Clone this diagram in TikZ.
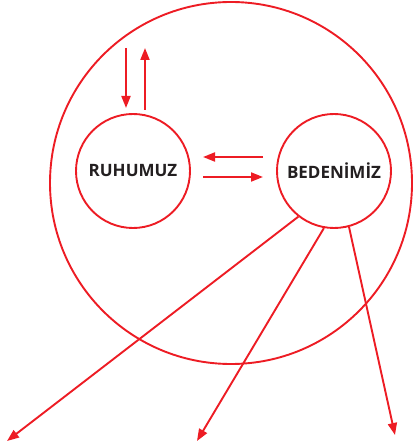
\documentclass[tikz,border=0pt]{standalone}
\usepackage{fontspec}
\setsansfont{Open Sans}
\usetikzlibrary{arrows.meta}
\definecolor{kirmizi}{HTML}{ED1C24}
\definecolor{yazi}{HTML}{231F20}
\begin{document}
\begin{tikzpicture}[x=1pt,y=-1pt]
        \tikzstyle{daire}=[circle,line width=1.9pt,draw=kirmizi,minimum size=114pt,inner sep=0pt,text=yazi,font=\sffamily\bfseries\fontsize{17}{17}\selectfont]
        \tikzstyle{ok}=[draw=kirmizi,line width=1.9pt,-{Triangle[length=12pt,width=9pt]}]
        \useasboundingbox (0,0) rectangle (412,446);
       \begin{scope}
         \node [circle,line width=1.9pt,draw=kirmizi,minimum size=362pt,inner sep=0pt] (dis) at (231,183) {};
         \node [daire] (ruh) at (133,171) {RUHUMUZ};
         \node [daire] (beden) at (334,171) {BEDENİMİZ};
         \coordinate (a1) at (126,48);  \coordinate (a2) at (126,108);
         \coordinate (b1) at (145,110); \coordinate (b2) at (145,48);
         \coordinate (c1) at (263,157); \coordinate (c2) at (203,157);
         \coordinate (d1) at (203,177); \coordinate (d2) at (263,177);
         \coordinate (u1) at (7,441);
         \coordinate (u2) at (197,441);
         \coordinate (u3) at (395,435);
         \path[ok] (a1) -- (a2);
         \path[ok] (b1) -- (b2);
         \path[ok] (c1) -- (c2);
         \path[ok] (d1) -- (d2);
         \path[ok] (beden.232) -- (u1);
         \path[ok] (beden.260) -- (u2);
         \path[ok] (beden.285) -- (u3);
        \end{scope}
      \end{tikzpicture}
\end{document}
